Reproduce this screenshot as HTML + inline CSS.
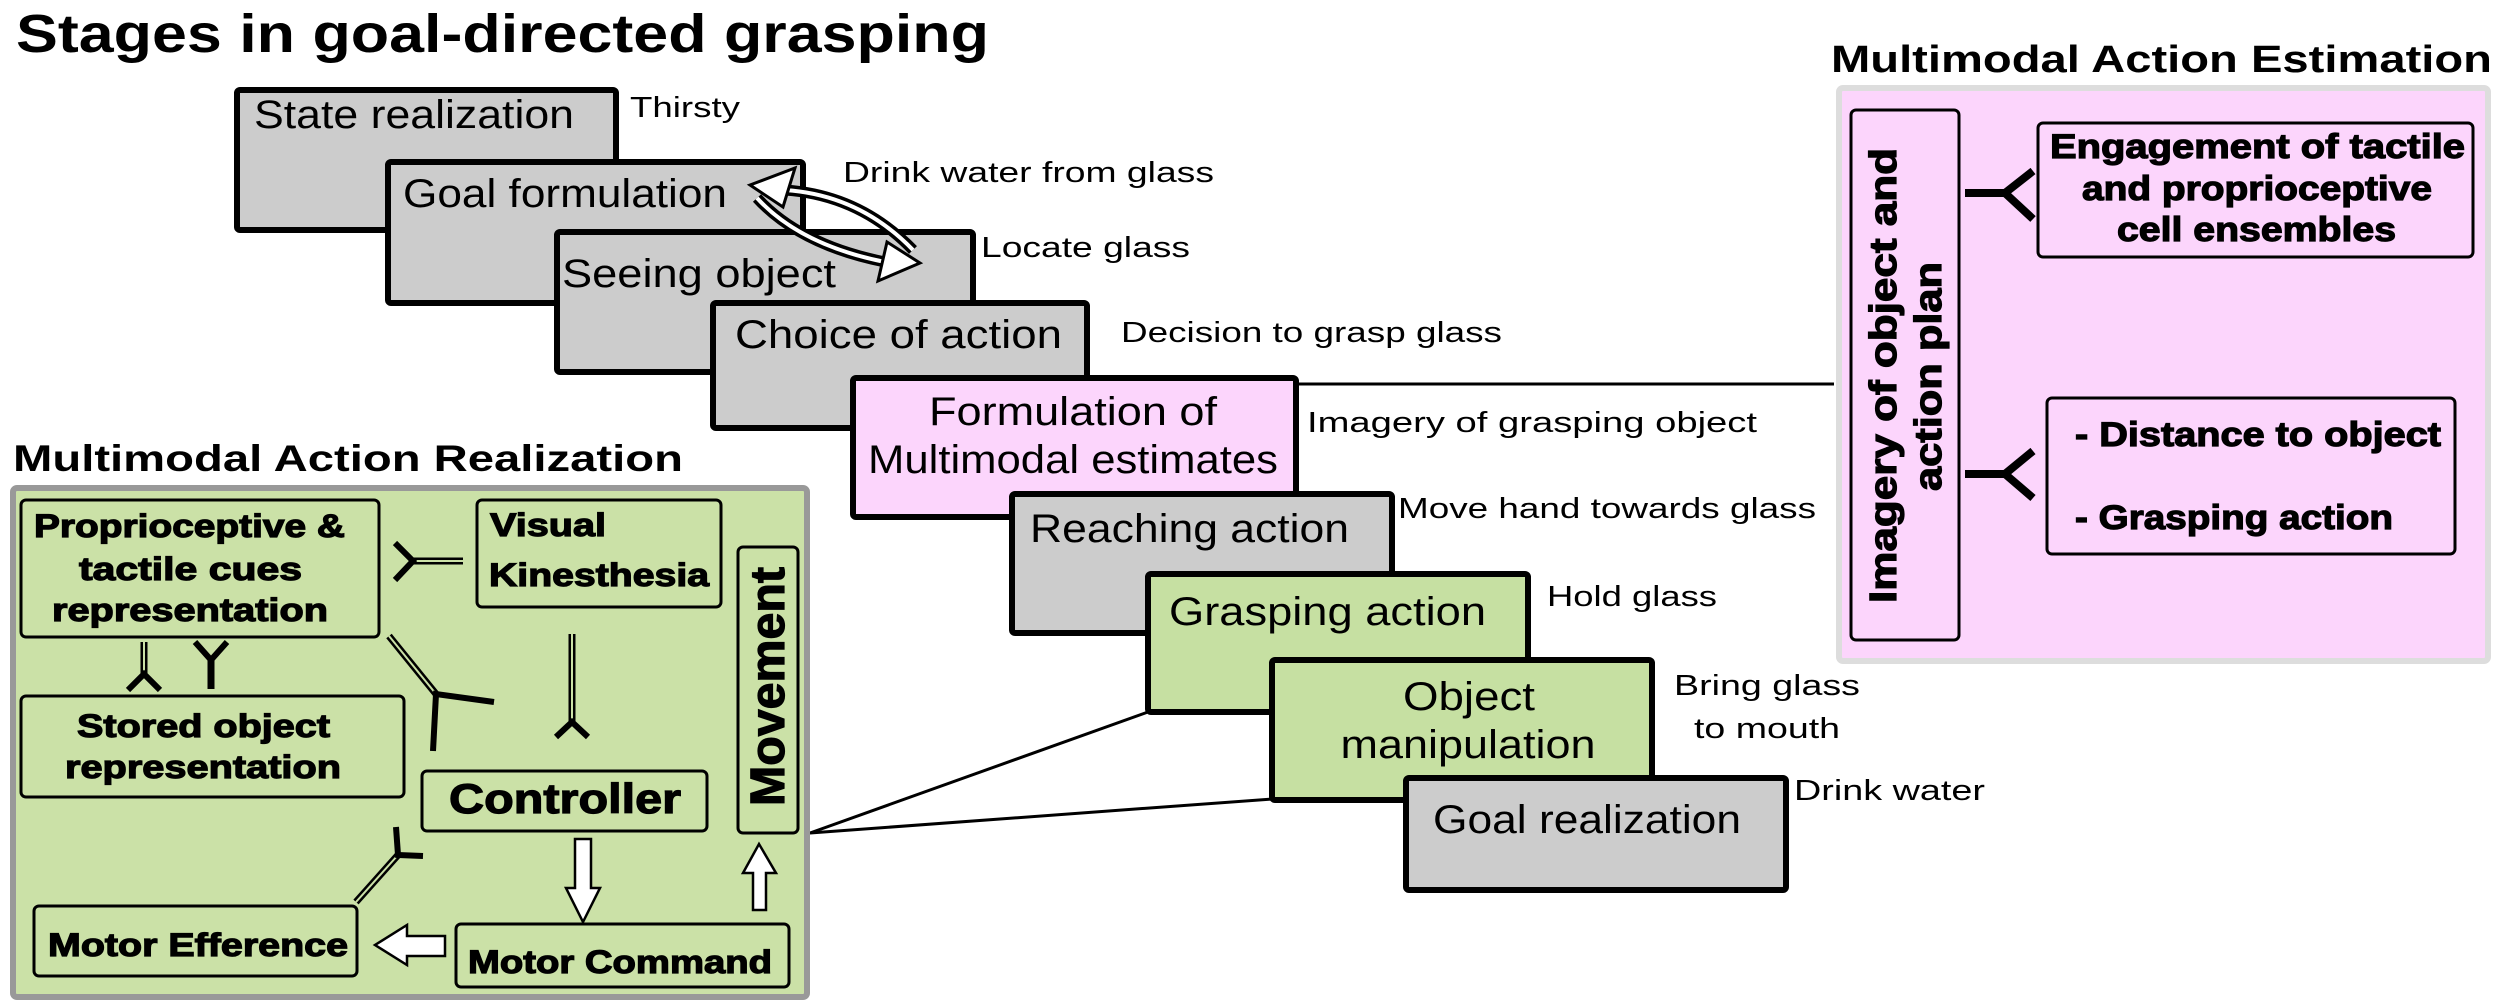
<!DOCTYPE html>
<html><head><meta charset="utf-8"><style>
html,body{margin:0;padding:0;background:#fff;}
svg{display:block;}
text{font-family:"Liberation Sans",Arial,sans-serif;fill:#000;}
.st{font-size:40px;}
.lb{font-size:29px;}
.hv{font-weight:bold;stroke:#000;stroke-width:1.2px;}
</style></head><body>
<svg width="2500" height="1007" viewBox="0 0 2500 1007" xmlns="http://www.w3.org/2000/svg">
<!-- Title -->
<text x="16" y="52" font-size="54" font-weight="bold" textLength="973" lengthAdjust="spacingAndGlyphs">Stages in goal-directed grasping</text>

<!-- Stage boxes -->
<g stroke="#000" stroke-width="6">
<rect x="237" y="90" width="379" height="140" fill="#cccccc" rx="3"/>
<rect x="388" y="162" width="415" height="141" fill="#cccccc" rx="3"/>
<rect x="557" y="232" width="416" height="140" fill="#cccccc" rx="3"/>
<rect x="713" y="303" width="374" height="125" fill="#cccccc" rx="3"/>
<rect x="853" y="378" width="443" height="139" fill="#fcd5fc" rx="3"/>
<rect x="1012" y="494" width="380" height="139" fill="#cccccc" rx="3"/>
<rect x="1148" y="574" width="380" height="138" fill="#c6e0a2" rx="3"/>
<rect x="1272" y="660" width="380" height="140" fill="#c6e0a2" rx="3"/>
<rect x="1406" y="778" width="380" height="112" fill="#cccccc" rx="3"/>
</g>
<text class="st" x="254" y="128" textLength="320" lengthAdjust="spacingAndGlyphs">State realization</text>
<text class="st" x="403" y="207" textLength="324" lengthAdjust="spacingAndGlyphs">Goal formulation</text>
<text class="st" x="562" y="287" textLength="274" lengthAdjust="spacingAndGlyphs">Seeing object</text>
<text class="st" x="735" y="348" textLength="327" lengthAdjust="spacingAndGlyphs">Choice of action</text>
<text class="st" x="1073" y="425" text-anchor="middle" textLength="288" lengthAdjust="spacingAndGlyphs">Formulation of</text>
<text class="st" x="1073" y="473" text-anchor="middle" textLength="410" lengthAdjust="spacingAndGlyphs">Multimodal estimates</text>
<text class="st" x="1030" y="542" textLength="319" lengthAdjust="spacingAndGlyphs">Reaching action</text>
<text class="st" x="1169" y="625" textLength="317" lengthAdjust="spacingAndGlyphs">Grasping action</text>
<text class="st" x="1469" y="710" text-anchor="middle" textLength="132" lengthAdjust="spacingAndGlyphs">Object</text>
<text class="st" x="1468" y="758" text-anchor="middle" textLength="255" lengthAdjust="spacingAndGlyphs">manipulation</text>
<text class="st" x="1433" y="833" textLength="308" lengthAdjust="spacingAndGlyphs">Goal realization</text>

<!-- stage labels -->
<text class="lb" x="630" y="117" textLength="110" lengthAdjust="spacingAndGlyphs">Thirsty</text>
<text class="lb" x="843" y="182" textLength="371" lengthAdjust="spacingAndGlyphs">Drink water from glass</text>
<text class="lb" x="981" y="257" textLength="209" lengthAdjust="spacingAndGlyphs">Locate glass</text>
<text class="lb" x="1121" y="342" textLength="381" lengthAdjust="spacingAndGlyphs">Decision to grasp glass</text>
<text class="lb" x="1307" y="432" textLength="450" lengthAdjust="spacingAndGlyphs">Imagery of grasping object</text>
<text class="lb" x="1398" y="518" textLength="418" lengthAdjust="spacingAndGlyphs">Move hand towards glass</text>
<text class="lb" x="1547" y="606" textLength="170" lengthAdjust="spacingAndGlyphs">Hold glass</text>
<text class="lb" x="1674" y="695" textLength="186" lengthAdjust="spacingAndGlyphs">Bring glass</text>
<text class="lb" x="1694" y="738" textLength="146" lengthAdjust="spacingAndGlyphs">to mouth</text>
<text class="lb" x="1794" y="800" textLength="191" lengthAdjust="spacingAndGlyphs">Drink water</text>

<!-- curved hollow arrows -->
<g fill="none" stroke-linecap="butt">
<path d="M913 250 Q860 195 785 190" stroke="#000" stroke-width="11"/>
<path d="M913 250 Q860 195 785 190" stroke="#fff" stroke-width="4"/>
<path d="M757 198 Q800 245 885 262" stroke="#000" stroke-width="11"/>
<path d="M757 198 Q800 245 885 262" stroke="#fff" stroke-width="4"/>
</g>
<polygon points="750,185 795,168 783,207" fill="#fff" stroke="#000" stroke-width="3"/>
<polygon points="920,263 887,242 878,281" fill="#fff" stroke="#000" stroke-width="3"/>

<!-- connector lines -->
<line x1="1296" y1="384" x2="1834" y2="384" stroke="#000" stroke-width="3"/>
<line x1="810" y1="833" x2="1148" y2="712" stroke="#000" stroke-width="3"/>
<line x1="810" y1="833" x2="1272" y2="799" stroke="#000" stroke-width="3"/>

<!-- Left panel -->
<text x="13" y="471" font-size="37" font-weight="bold" textLength="670" lengthAdjust="spacingAndGlyphs">Multimodal Action Realization</text>
<rect x="13" y="488" width="794" height="509" fill="#cbe1a7" stroke="#999" stroke-width="6" rx="4"/>
<g fill="none" stroke="#000" stroke-width="3">
<rect x="21" y="500" width="358" height="137" rx="5"/>
<rect x="477" y="500" width="244" height="107" rx="5"/>
<rect x="738" y="547" width="60" height="286" rx="5"/>
<rect x="21" y="696" width="383" height="101" rx="5"/>
<rect x="422" y="771" width="285" height="60" rx="5"/>
<rect x="34" y="906" width="323" height="70" rx="5"/>
<rect x="456" y="924" width="333" height="63" rx="5"/>
</g>
<g class="hv" font-size="32">
<text x="34" y="537" textLength="311" lengthAdjust="spacingAndGlyphs">Proprioceptive &amp;</text>
<text x="79" y="580" textLength="223" lengthAdjust="spacingAndGlyphs">tactile cues</text>
<text x="52" y="621" textLength="276" lengthAdjust="spacingAndGlyphs">representation</text>
<text x="77" y="737" textLength="253" lengthAdjust="spacingAndGlyphs">Stored object</text>
<text x="65" y="778" textLength="276" lengthAdjust="spacingAndGlyphs">representation</text>
<text x="449" y="813" font-size="42" textLength="232" lengthAdjust="spacingAndGlyphs">Controller</text>
<text x="48" y="956" textLength="300" lengthAdjust="spacingAndGlyphs">Motor Efference</text>
<text x="468" y="973" textLength="304" lengthAdjust="spacingAndGlyphs">Motor Command</text>
<text x="490" y="536" textLength="116" lengthAdjust="spacingAndGlyphs">Visual</text>
<text x="489" y="586" textLength="220" lengthAdjust="spacingAndGlyphs">Kinesthesia</text>
</g>
<text class="hv" transform="translate(784,806) rotate(-90)" font-size="48" textLength="239" lengthAdjust="spacingAndGlyphs">Movement</text>

<!-- hollow block arrows -->
<polygon points="575,839 591,839 591,888 600,888 583,922 566,888 575,888" fill="#fff" stroke="#000" stroke-width="2.5"/>
<polygon points="753,910 766,910 766,873 776,873 759,844 743,873 753,873" fill="#fff" stroke="#000" stroke-width="2.5"/>
<polygon points="445,936 445,956 407,956 407,965 375,945 407,925 407,936" fill="#fff" stroke="#000" stroke-width="2.5"/>

<!-- Y connectors left -->
<g fill="none" stroke="#000" stroke-linecap="butt">
<line x1="413" y1="561" x2="463" y2="561" stroke-width="7"/>
<line x1="413" y1="561" x2="463" y2="561" stroke="#cbe1a7" stroke-width="2"/>
<polyline points="395,543 413,561 395,580" stroke-width="6"/>
<line x1="144" y1="642" x2="144" y2="674" stroke-width="7"/>
<line x1="144" y1="642" x2="144" y2="674" stroke="#cbe1a7" stroke-width="2"/>
<polyline points="128,690 144,674 160,690" stroke-width="6"/>
<line x1="211" y1="689" x2="211" y2="660" stroke-width="7"/>
<polyline points="195,642 211,660 227,642" stroke-width="6"/>
<line x1="389" y1="636" x2="436" y2="694" stroke-width="7"/>
<line x1="389" y1="636" x2="436" y2="694" stroke="#cbe1a7" stroke-width="2"/>
<polyline points="494,702 436,694 433,751" stroke-width="6"/>
<line x1="572" y1="634" x2="572" y2="722" stroke-width="7"/>
<line x1="572" y1="634" x2="572" y2="722" stroke="#cbe1a7" stroke-width="2"/>
<polyline points="556,737 572,722 588,737" stroke-width="6"/>
<line x1="356" y1="902" x2="398" y2="855" stroke-width="7"/>
<line x1="356" y1="902" x2="398" y2="855" stroke="#cbe1a7" stroke-width="2"/>
<polyline points="396,827 398,855 423,856" stroke-width="6"/>
</g>

<!-- Right panel -->
<text x="1831" y="72" font-size="38" font-weight="bold" textLength="661" lengthAdjust="spacingAndGlyphs">Multimodal Action Estimation</text>
<rect x="1839" y="88" width="649" height="573" fill="#fcd5fc" stroke="#ddd" stroke-width="6" rx="4"/>
<g fill="none" stroke="#000" stroke-width="3">
<rect x="1851" y="110" width="108" height="530" rx="5"/>
<rect x="2038" y="123" width="435" height="134" rx="5"/>
<rect x="2047" y="398" width="408" height="156" rx="5"/>
</g>
<g class="hv" font-size="34">
<text x="2050" y="158" textLength="415" lengthAdjust="spacingAndGlyphs">Engagement of tactile</text>
<text x="2082" y="200" textLength="350" lengthAdjust="spacingAndGlyphs">and proprioceptive</text>
<text x="2117" y="241" textLength="279" lengthAdjust="spacingAndGlyphs">cell ensembles</text>
<text x="2075" y="446" textLength="366" lengthAdjust="spacingAndGlyphs">- Distance to object</text>
<text x="2075" y="529" textLength="318" lengthAdjust="spacingAndGlyphs">- Grasping action</text>
</g>
<text class="hv" transform="translate(1896,603) rotate(-90)" font-size="38" textLength="455" lengthAdjust="spacingAndGlyphs">Imagery of object and</text>
<text class="hv" transform="translate(1941,491) rotate(-90)" font-size="38" textLength="229" lengthAdjust="spacingAndGlyphs">action plan</text>
<g fill="none" stroke="#000" stroke-width="8">
<line x1="1965" y1="193" x2="2005" y2="193"/>
<polyline points="2033,171 2005,193 2033,219"/>
<line x1="1965" y1="474" x2="2005" y2="474"/>
<polyline points="2033,451 2005,474 2033,498"/>
</g>
</svg>
</body></html>
